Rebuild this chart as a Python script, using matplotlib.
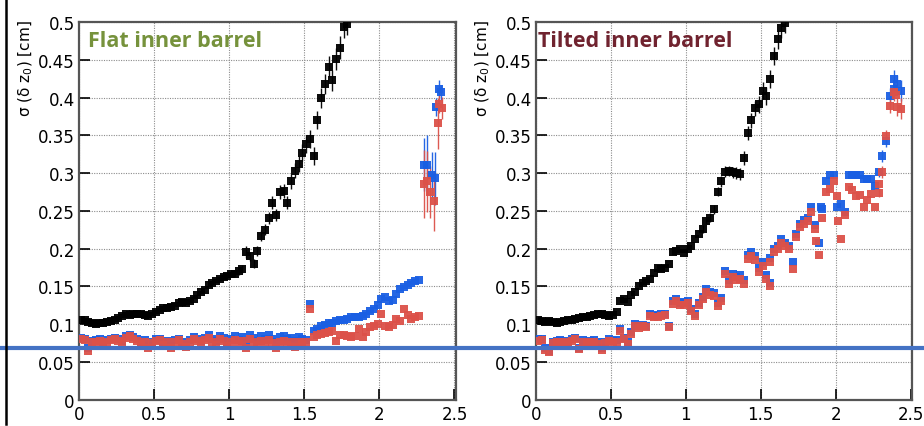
import numpy as np
import matplotlib
matplotlib.use('Agg')
import matplotlib.pyplot as plt
from matplotlib.lines import Line2D

plt.rcParams['font.family'] = ['DejaVu Sans']
plt.rcParams['mathtext.fontset'] = 'dejavusans'

# eta bin centres (bin width 0.025)
eta = np.arange(100) * 0.025 + 0.0125

# ---------------- flat inner barrel ----------------
flat_black = [0.106, 0.105, 0.103, 0.101, 0.100, 0.101, 0.102, 0.103, 0.104, 0.106,
              0.108, 0.111, 0.113, 0.112, 0.114, 0.113, 0.114, 0.112, 0.111, 0.113,
              0.116, 0.119, 0.122, 0.121, 0.123, 0.124, 0.128, 0.129, 0.128, 0.131,
              0.133, 0.138, 0.142, 0.145, 0.152, 0.154, 0.157, 0.160, 0.162, 0.164,
              0.166, 0.167, 0.170, 0.173, 0.196, 0.190, 0.180, 0.197, 0.217, 0.225,
              0.241, 0.261, 0.244, 0.275, 0.276, 0.261, 0.289, 0.303, 0.312, 0.327,
              0.338, 0.345, 0.323, 0.370, 0.399, 0.418, 0.441, 0.423, 0.451, 0.466,
              0.494, 0.498]
flat_black_err = [0.0] * 40 + [0.004, 0.004, 0.005, 0.005, 0.008, 0.006, 0.006, 0.007,
                               0.007, 0.007, 0.008, 0.008, 0.008, 0.009, 0.009, 0.009,
                               0.010, 0.010, 0.010, 0.011, 0.011, 0.012, 0.012, 0.012,
                               0.013, 0.013, 0.014, 0.014, 0.014, 0.015, 0.015, 0.015]

flat_blue = [0.082, 0.081, 0.068, 0.078, 0.079, 0.080, 0.077, 0.079, 0.081, 0.082,
             0.080, 0.078, 0.084, 0.086, 0.083, 0.080, 0.076, 0.079, 0.071, 0.077,
             0.080, 0.081, 0.074, 0.078, 0.071, 0.079, 0.081, 0.077, 0.073, 0.079,
             0.083, 0.081, 0.078, 0.082, 0.085, 0.080, 0.078, 0.084, 0.082, 0.076,
             0.081, 0.084, 0.079, 0.083, 0.075, 0.085, 0.082, 0.078, 0.084, 0.080,
             0.085, 0.081, 0.076, 0.083, 0.084, 0.080, 0.082, 0.078, 0.083, 0.080,
             0.079, 0.127, 0.091, 0.094, 0.098, 0.099, 0.101, 0.102, 0.104, 0.105,
             0.106, 0.107, 0.109, 0.110, 0.110, 0.111, 0.114, 0.118, 0.120, 0.126,
             0.133, 0.1355, 0.131, 0.132, 0.140, 0.1465, 0.149, 0.152, 0.155, 0.157,
             0.158]
flat_red = [0.080, 0.079, 0.065, 0.076, 0.077, 0.078, 0.075, 0.077, 0.079, 0.080,
            0.078, 0.076, 0.082, 0.084, 0.081, 0.078, 0.074, 0.077, 0.069, 0.075,
            0.078, 0.079, 0.072, 0.076, 0.068, 0.077, 0.079, 0.074, 0.070, 0.077,
            0.081, 0.078, 0.075, 0.079, 0.082, 0.077, 0.073, 0.080, 0.078, 0.071,
            0.076, 0.079, 0.074, 0.078, 0.069, 0.080, 0.077, 0.072, 0.078, 0.074,
            0.079, 0.075, 0.068, 0.077, 0.078, 0.073, 0.076, 0.070, 0.077, 0.074,
            0.076, 0.120, 0.083, 0.085, 0.087, 0.088, 0.089, 0.091, 0.078, 0.086,
            0.085, 0.084, 0.083, 0.084, 0.0935, 0.083, 0.090, 0.096, 0.098, 0.100,
            0.1135, 0.098, 0.096, 0.099, 0.107, 0.104, 0.120, 0.112, 0.107, 0.109,
            0.111]

# last few bins at high eta, with large uncertainties
flat_tail_eta_blue = [2.296, 2.318, 2.351, 2.373, 2.380, 2.396, 2.411]
flat_tail_blue = [0.311, 0.311, 0.298, 0.293, 0.387, 0.411, 0.407]
flat_tail_blue_err = [0.035, 0.040, 0.030, 0.035, 0.012, 0.012, 0.010]
flat_tail_eta_red = [2.296, 2.318, 2.340, 2.362, 2.389, 2.400, 2.418]
flat_tail_red = [0.285, 0.289, 0.275, 0.263, 0.366, 0.391, 0.386]
flat_tail_red_err = [0.045, 0.040, 0.035, 0.040, 0.034, 0.012, 0.015]

# ---------------- tilted inner barrel ----------------
tilt_black = [0.105, 0.104, 0.103, 0.104, 0.103, 0.102, 0.103, 0.104, 0.105, 0.106,
              0.107, 0.108, 0.109, 0.110, 0.111, 0.112, 0.113, 0.114, 0.112, 0.111,
              0.112, 0.116, 0.131, 0.133, 0.129, 0.138, 0.142, 0.151, 0.155, 0.157,
              0.160, 0.168, 0.175, 0.173, 0.174, 0.180, 0.195, 0.197, 0.199, 0.194,
              0.200, 0.203, 0.213, 0.220, 0.226, 0.237, 0.241, 0.252, 0.275, 0.289,
              0.302, 0.303, 0.301, 0.300, 0.299, 0.320, 0.353, 0.370, 0.386, 0.391,
              0.409, 0.402, 0.425, 0.455, 0.477, 0.492, 0.499]
tilt_black_err = [0.0] * 44 + [0.005, 0.005, 0.006, 0.006, 0.006, 0.007, 0.007, 0.007,
                               0.007, 0.008, 0.008, 0.009, 0.009, 0.010, 0.010, 0.011,
                               0.011, 0.012, 0.012, 0.012, 0.013, 0.013, 0.014]

tilt_blue = [0.080, 0.081, 0.068, 0.065, 0.077, 0.078, 0.079, 0.078, 0.077, 0.080,
             0.082, 0.069, 0.079, 0.077, 0.078, 0.079, 0.076, 0.068, 0.077, 0.080,
             0.078, 0.079, 0.093, 0.082, 0.076, 0.089, 0.100, 0.097, 0.099, 0.098,
             0.113, 0.112, 0.111, 0.113, 0.114, 0.098, 0.130, 0.133, 0.128, 0.129,
             0.131, 0.120, 0.114, 0.128, 0.136, 0.146, 0.142, 0.141, 0.128, 0.135,
             0.171, 0.158, 0.167, 0.163, 0.165, 0.158, 0.191, 0.195, 0.190, 0.174,
             0.182, 0.165, 0.187, 0.200, 0.204, 0.213, 0.208, 0.204, 0.182, 0.220,
             0.233, 0.238, 0.241, 0.255, 0.231, 0.207, 0.252, 0.290, 0.297, 0.298,
             0.255, 0.259, 0.248, 0.297, 0.297, 0.297, 0.297, 0.292, 0.292, 0.292,
             0.283, 0.301, 0.323, 0.343, 0.402, 0.425, 0.418, 0.409]
tilt_red = [0.078, 0.079, 0.066, 0.063, 0.075, 0.076, 0.077, 0.076, 0.075, 0.078,
            0.080, 0.067, 0.077, 0.075, 0.076, 0.077, 0.074, 0.066, 0.075, 0.078,
            0.076, 0.077, 0.091, 0.080, 0.074, 0.087, 0.098, 0.095, 0.097, 0.096,
            0.111, 0.110, 0.109, 0.111, 0.112, 0.096, 0.127, 0.130, 0.125, 0.126,
            0.128, 0.117, 0.111, 0.125, 0.133, 0.142, 0.138, 0.137, 0.124, 0.131,
            0.166, 0.153, 0.162, 0.158, 0.160, 0.153, 0.186, 0.190, 0.185, 0.169,
            0.177, 0.160, 0.182, 0.195, 0.199, 0.208, 0.203, 0.199, 0.173, 0.215,
            0.228, 0.233, 0.236, 0.248, 0.226, 0.191, 0.241, 0.275, 0.279, 0.289,
            0.270, 0.213, 0.244, 0.281, 0.277, 0.270, 0.271, 0.255, 0.265, 0.272,
            0.255, 0.274, 0.301, 0.349, 0.389, 0.407, 0.387, 0.385]
tilt_tail_err = [0.0] * 91 + [0.006, 0.008, 0.008, 0.010, 0.012, 0.012, 0.014]

# points sharing a bin with another one
tilt_extra_eta_blue = [1.560, 1.904, 2.393]
tilt_extra_blue = [0.155, 0.255, 0.411]
tilt_extra_eta_red = [1.560, 1.871, 2.016, 2.293, 2.400]
tilt_extra_red = [0.150, 0.210, 0.237, 0.286, 0.403]

BLACK = '#000000'
BLUE = '#1a5fe3'
RED = '#dc5149'


def draw(ax, x, y, color, err=None):
    y = np.array(y, dtype=float)
    ax.errorbar(np.asarray(x)[:len(y)], y, yerr=err, fmt='s', ms=5.4, mew=0,
                color=color, ecolor=color, elinewidth=1.0, capsize=0,
                alpha=0.95, zorder=3)


def style(ax, title, title_color):
    ax.set_xlim(0, 2.51)
    ax.set_ylim(0, 0.5)
    ax.set_xticks([0, 0.5, 1, 1.5, 2, 2.5])
    ax.set_xticklabels(['0', '0.5', '1', '1.5', '2', '2.5'])
    ax.set_yticks(np.arange(0, 0.501, 0.05))
    ax.set_yticklabels(['0', '0.05', '0.1', '0.15', '0.2', '0.25', '0.3',
                        '0.35', '0.4', '0.45', '0.5'])
    ax.tick_params(direction='in', length=8, width=1.2, labelsize=12,
                   color='black', pad=3)
    ax.tick_params(axis='x', pad=4)
    for s in ax.spines.values():
        s.set_color('#555555')
        s.set_linewidth(1.6)
    ax.grid(True, color='#8c8c8c', linestyle=(0, (1, 1.2)), linewidth=0.8)
    ax.set_axisbelow(True)
    return ax.text(0.0, 0.951, title, transform=ax.transAxes, ha='left', va='center',
                   fontsize=15.5, fontweight='bold', family='Open Sans',
                   color=title_color)


fig = plt.figure(figsize=(9.24, 4.27), dpi=100)
W, H = 924, 427
ax1 = fig.add_axes([79 / W, 1 - 400.7 / H, (456 - 79) / W, (400.7 - 23) / H])
ax2 = fig.add_axes([536 / W, 1 - 400.7 / H, (912 - 536) / W, (400.7 - 23) / H])

draw(ax1, eta, flat_black, BLACK, flat_black_err)
draw(ax1, eta, flat_blue, BLUE)
draw(ax1, flat_tail_eta_blue, flat_tail_blue, BLUE, flat_tail_blue_err)
draw(ax1, eta, flat_red, RED)
draw(ax1, flat_tail_eta_red, flat_tail_red, RED, flat_tail_red_err)
t1 = style(ax1, 'Flat inner barrel', '#76923c')
t1.set_x(9 / 377)

draw(ax2, eta, tilt_black, BLACK, tilt_black_err)
draw(ax2, eta, tilt_blue, BLUE, tilt_tail_err)
draw(ax2, tilt_extra_eta_blue, tilt_extra_blue, BLUE)
draw(ax2, eta, tilt_red, RED, tilt_tail_err)
draw(ax2, tilt_extra_eta_red, tilt_extra_red, RED)
t2 = style(ax2, 'Tilted inner barrel', '#70232f')
t2.set_x(2 / 376)

for xl in (26, 483):
    fig.text(xl / W, 1 - 20 / H, r'σ (δ z$_{0}$) [cm]', rotation=90,
             ha='center', va='top', fontsize=11)

# reference level line across the whole figure
fig.add_artist(Line2D([0, 1], [1 - 348.7 / H] * 2, transform=fig.transFigure,
                      color='#4472c4', lw=3, zorder=10))
# frame mark on the left
fig.add_artist(Line2D([5.8 / W] * 2, [1 - 425 / H, 1], transform=fig.transFigure,
                      color='black', lw=1.8, zorder=10))

fig.savefig('out.png', dpi=100)
